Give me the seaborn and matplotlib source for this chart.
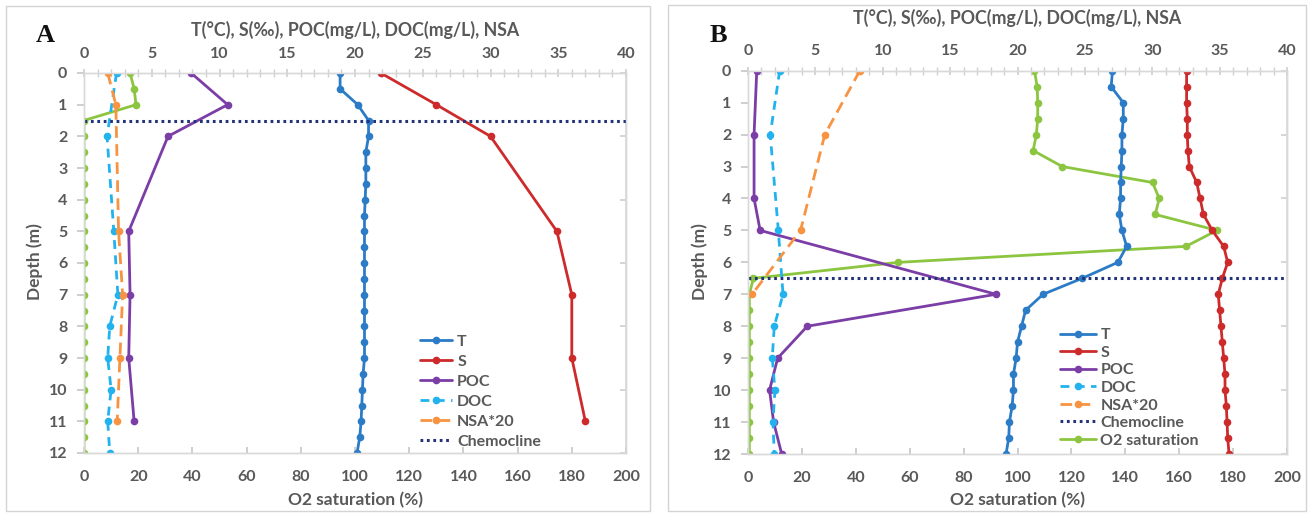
import seaborn as sns
import matplotlib.pyplot as plt
from matplotlib.patches import Rectangle
from matplotlib.ticker import MultipleLocator

# ---- Panel A data (depth in m) ----
a_half_depth = [0, 0.5, 1, 1.5, 2, 2.5, 3, 3.5, 4, 4.5, 5, 5.5, 6, 6.5, 7, 7.5, 8, 8.5, 9, 9.5, 10, 10.5, 11, 11.5, 12]
a_t = [18.9, 18.9, 20.2, 21.0, 21.0, 20.8, 20.8, 20.8, 20.75, 20.7, 20.7, 20.7, 20.7, 20.7, 20.7, 20.7, 20.7, 20.7, 20.7,
       20.6, 20.55, 20.5, 20.45, 20.35, 20.15]
a_s_depth = [0, 1, 2, 5, 7, 9, 11]
a_s = [21.9, 26.0, 30.0, 34.9, 36.0, 36.0, 37.0]
a_poc_depth = [0, 1, 2, 5, 7, 9, 11]
a_poc = [7.9, 10.6, 6.2, 3.3, 3.4, 3.3, 3.7]
a_doc_depth = [0, 2, 5, 7, 8, 9, 10, 11, 12]
a_doc = [2.4, 1.7, 2.2, 2.5, 1.9, 1.75, 2.0, 1.75, 1.9]
a_nsa_depth = [0, 1, 5, 7, 9, 11]
a_nsa = [1.75, 2.35, 2.55, 2.85, 2.65, 2.45]
a_o2 = [17.0, 18.5, 19.2, 0, 0, 0, 0, 0, 0, 0, 0, 0, 0, 0, 0, 0, 0, 0, 0, 0, 0, 0, 0, 0, 0]
a_chemocline = 1.5

# ---- Panel B data ----
b_half_depth = [0, 0.5, 1, 1.5, 2, 2.5, 3, 3.5, 4, 4.5, 5, 5.5, 6, 6.5, 7, 7.5, 8, 8.5, 9, 9.5, 10, 10.5, 11, 11.5, 12]
b_t = [27.05, 26.95, 27.85, 27.85, 27.75, 27.75, 27.7, 27.65, 27.65, 27.55, 27.75, 28.1, 27.45, 24.8, 21.9, 20.6,
       20.3, 20.0, 19.9, 19.7, 19.7, 19.6, 19.4, 19.35, 19.15]
b_s = [32.55, 32.55, 32.55, 32.6, 32.6, 32.65, 32.75, 33.3, 33.55, 33.8, 34.45, 35.3, 35.6, 35.2, 34.9, 35.0,
       35.1, 35.2, 35.3, 35.4, 35.4, 35.5, 35.55, 35.6, 35.7]
b_poc_depth = [0, 2, 4, 5, 7, 8, 9, 10, 11, 12]
b_poc = [0.65, 0.45, 0.45, 0.9, 18.4, 4.4, 2.2, 1.6, 1.9, 2.5]
b_doc_depth = [0, 2, 5, 7, 8, 9, 10, 11, 12]
b_doc = [2.35, 1.65, 2.25, 2.6, 1.95, 1.8, 2.0, 1.85, 1.95]
b_nsa_depth = [0, 2, 5, 7]
b_nsa = [8.3, 5.7, 3.9, 0.3]
b_o2 = [106.3, 107.3, 107.5, 107.5, 107.0, 105.8, 116.6, 150.1, 152.6, 151.1, 174.0, 162.5, 55.8, 2.0,
        0.5, 0.5, 0.5, 0.5, 0.5, 0.5, 0.5, 0.5, 0.5, 0.5, 0.5]
b_chemocline = 6.5

top_label = "T(°C), S(‰), POC(mg/L), DOC(mg/L), NSA"

c_t = '#2B7BC6'
c_s = '#CD2A2C'
c_poc = '#7B3DA6'
c_doc = '#22B3EE'
c_nsa = '#F79341'
c_chem = '#23337A'
c_o2 = '#8CC540'
grey = '#595959'
spine_col = '#D9D9D9'

sns.set_theme(style='white')
plt.rcParams['font.family'] = ['Lato', 'DejaVu Sans']
plt.rcParams['font.weight'] = 'bold'

fig = plt.figure(figsize=(13.12, 5.17), dpi=100)
W, H = 1312, 517

# panel frames
fig.patches.append(Rectangle((6 / W, 1 - 511 / H), 644 / W, 505 / H, transform=fig.transFigure,
                             fill=False, edgecolor='#D4D4D4', lw=1))
fig.patches.append(Rectangle((668 / W, 1 - 511 / H), 638 / W, 506 / H, transform=fig.transFigure,
                             fill=False, edgecolor='#D4D4D4', lw=1))

line_kw = dict(lw=2.0, marker='o', markersize=5.5, markeredgewidth=0, sort=False, estimator=None, legend=False)


def setup_axes(ax):
    top = ax.twiny()
    ax.set_xlim(0, 200)
    top.set_xlim(0, 40)
    ax.set_ylim(12, 0)
    for a in (ax, top):
        for s in a.spines.values():
            s.set_color(spine_col)
            s.set_linewidth(1)
    ax.xaxis.set_major_locator(MultipleLocator(20))
    ax.yaxis.set_major_locator(MultipleLocator(1))
    ax.tick_params(axis='x', bottom=True, direction='in', length=4, color='#C8C8C8',
                   labelsize=11.5, labelcolor=grey, pad=12)
    ax.tick_params(axis='y', left=True, direction='out', length=5, color='#C8C8C8',
                   labelsize=11.5, labelcolor=grey, pad=7)
    top.xaxis.set_major_locator(MultipleLocator(5))
    top.xaxis.set_minor_locator(MultipleLocator(1))
    top.tick_params(axis='x', which='both', top=True, direction='inout', length=6, color='#D0D0D0',
                    labelsize=11.5, labelcolor=grey, pad=6)
    sec = ax.secondary_yaxis('right')
    sec.set_yticks([0, 2, 4, 6, 8, 10, 12])
    sec.tick_params(axis='y', right=True, direction='in', length=4, color='#D0D0D0', labelright=False)
    sec.spines['right'].set_color(spine_col)
    return top


def draw_panel(ax, half_depth, t, s_depth, s, poc_depth, poc, doc_depth, doc, nsa_depth, nsa, o2, chem, o2_label):
    top = setup_axes(ax)
    sns.lineplot(x=o2, y=half_depth, ax=ax, color=c_o2, label=o2_label, **line_kw)
    sns.lineplot(x=t, y=half_depth, ax=top, color=c_t, label='T', **line_kw)
    sns.lineplot(x=s, y=s_depth, ax=top, color=c_s, label='S', **line_kw)
    sns.lineplot(x=poc, y=poc_depth, ax=top, color=c_poc, label='POC', **line_kw)
    sns.lineplot(x=doc, y=doc_depth, ax=top, color=c_doc, label='DOC', linestyle=(0, (3.2, 2.3)), **line_kw)
    sns.lineplot(x=nsa, y=nsa_depth, ax=top, color=c_nsa, label='NSA*20', linestyle=(0, (4.2, 2.3)), **line_kw)
    top.axhline(chem, color=c_chem, lw=2.2, linestyle=(0, (0.9, 1.2)), label='Chemocline')
    ax.set_ylim(12, 0)
    ax.set_xlim(0, 200)
    top.set_xlim(0, 40)
    for a in (ax, top):
        a.set_xlabel('')
        a.set_ylabel('')
    h1, l1 = top.get_legend_handles_labels()
    h2, l2 = ax.get_legend_handles_labels()
    return top, h1 + h2, l1 + l2


ax_a = fig.add_axes([84 / W, 1 - 453 / H, 542 / W, 380 / H])
top_a, ha, la = draw_panel(ax_a, a_half_depth, a_t, a_s_depth, a_s, a_poc_depth, a_poc, a_doc_depth, a_doc,
                           a_nsa_depth, a_nsa, a_o2, a_chemocline, '_nolegend_')
leg_a = top_a.legend(ha, la, loc='lower left', bbox_to_anchor=(406 / W, 1 - 463 / H),
                     bbox_transform=fig.transFigure, frameon=False, fontsize=11.5, handlelength=2.0,
                     handletextpad=0.3, labelspacing=0.36, borderpad=0.4)
for txt in leg_a.get_texts():
    txt.set_color(grey)

ax_b = fig.add_axes([748 / W, 1 - 454 / H, 539 / W, 383.3 / H])
top_b, hb, lb = draw_panel(ax_b, b_half_depth, b_t, b_half_depth, b_s, b_poc_depth, b_poc, b_doc_depth, b_doc,
                           b_nsa_depth, b_nsa, b_o2, b_chemocline, 'O2 saturation')
leg_b = top_b.legend(hb, lb, loc='lower left', bbox_to_anchor=(1046 / W, 1 - 462 / H),
                     bbox_transform=fig.transFigure, frameon=False, fontsize=11.5, handlelength=2.2,
                     handletextpad=0.3, labelspacing=0.21, borderpad=0.4)
for txt in leg_b.get_texts():
    txt.set_color(grey)

# titles and labels
fig.text(355 / W, 1 - 30 / H, top_label, ha='center', va='center', fontsize=12.8, color=grey)
fig.text(1017 / W, 1 - 18 / H, top_label, ha='center', va='center', fontsize=12.8, color=grey)
fig.text(355 / W, 1 - 500 / H, 'O2 saturation (%)', ha='center', va='center', fontsize=12.5, color=grey)
fig.text(1017 / W, 1 - 500 / H, 'O2 saturation (%)', ha='center', va='center', fontsize=12.5, color=grey)
fig.text(35 / W, 1 - 262 / H, 'Depth (m)', ha='center', va='center', rotation=90, fontsize=12.5, color=grey)
fig.text(700 / W, 1 - 262 / H, 'Depth (m)', ha='center', va='center', rotation=90, fontsize=12.5, color=grey)
fig.text(45 / W, 1 - 36 / H, 'A', ha='center', va='center', fontsize=19, fontweight='bold',
         family='Liberation Serif', color='#111111')
fig.text(718 / W, 1 - 35 / H, 'B', ha='center', va='center', fontsize=19, fontweight='bold',
         family='Liberation Serif', color='#111111')

fig.savefig('out.png', dpi=100)
